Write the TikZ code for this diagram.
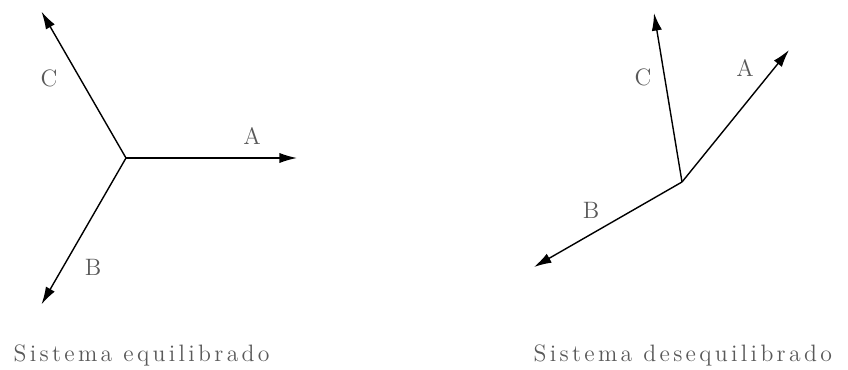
\documentclass[tikz,border=0pt]{standalone}
\usepackage{fontspec}
\newfontfamily\capfont[LetterSpace=14]{Latin Modern Roman}
\usetikzlibrary{arrows.meta}
\begin{document}
\begin{tikzpicture}[line width=0.8pt,
        vec/.style={-{Latex[length=10pt,width=5.8pt]}},
        lbl/.style={text=black!65, font=\fontsize{13.5}{16}\selectfont},
        caption/.style={text=black!65, anchor=base west, font=\capfont\fontsize{13.5}{16}\selectfont}]
            \useasboundingbox (0,0) rectangle (16.96,7.38);
            % balanced system
            \coordinate (O1) at (2.52,4.22);
            \path (O1) +(0:3.42) coordinate (A1) +(120:3.38) coordinate (C1) +(240:3.38) coordinate (B1);
            \draw[vec] (O1) -- (A1);
            \draw[vec] (O1) -- (B1);
            \draw[vec] (O1) -- (C1);
            \node[lbl] (labA1) at (5.04,4.66) {A};
            \node[lbl] (labB1) at (1.86,2.04) {B};
            \node[lbl] (labC1) at (0.98,5.82) {C};
            \node[caption] (cap1) at (0.14,0.16) {Sistema equilibrado};
            % unbalanced system
            \coordinate (O2) at (13.64,3.74);
            \coordinate (A2) at (15.78,6.38);
            \coordinate (B2) at (10.68,2.04);
            \coordinate (C2) at (13.08,7.12);
            \draw[vec] (O2) -- (A2);
            \draw[vec] (O2) -- (B2);
            \draw[vec] (O2) -- (C2);
            \node[lbl] (labA2) at (14.9,6.02) {A};
            \node[lbl] (labB2) at (11.82,3.18) {B};
            \node[lbl] (labC2) at (12.86,5.84) {C};
            \node[caption] (cap2) at (10.54,0.16) {Sistema desequilibrado};
        \end{tikzpicture}
\end{document}
